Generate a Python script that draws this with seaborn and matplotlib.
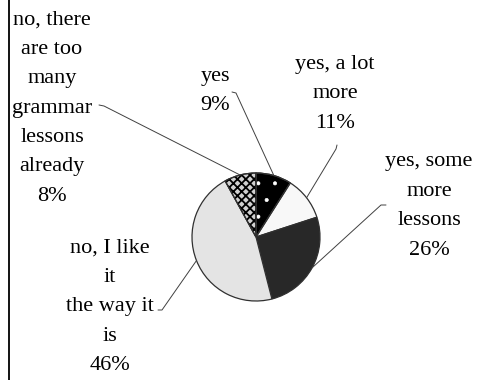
import matplotlib
matplotlib.use("Agg")
import numpy as np
import matplotlib.pyplot as plt
import seaborn as sns

# Survey answers, in drawing order (clockwise from 12 o'clock)
answers = [
    "yes",
    "yes, a lot\nmore",
    "yes, some\nmore\nlessons",
    "no, I like\nit\nthe way it\nis",
    "no, there\nare too\nmany\ngrammar\nlessons\nalready",
]
shares = [9, 11, 26, 46, 8]

face_colors = ["#000000", "#f8f8f8", "#282828", "#e4e4e4", "#d0d0d0"]
hatch_marks = [".", None, None, None, "xxxx"]
hatch_colors = ["white", None, None, None, "black"]
hatch_widths = [0.45, None, None, None, 1.3]

# Label layout in pixel coordinates (x right, y down)
label_centers = [(215, 91), (335, 94), (429, 206), (110, 307), (52, 108)]
# leader start (at the label) and short stub end
leader_starts = [((232, 92), (236, 93)),
                 ((337, 145), (336, 149)),
                 ((386, 205), (381, 205)),
                 ((158, 310), (162, 310)),
                 ((99, 105), (104, 106))]

W, H = 485, 380
CENTER = (256, 237)
RADIUS = 64

sns.set_theme(style="white")
plt.rcParams["font.family"] = ["Liberation Serif", "DejaVu Serif"]

fig = plt.figure(figsize=(W / 100, H / 100), dpi=100)
ax = fig.add_axes([0, 0, 1, 1])

# y axis runs downward, so counter-clockwise in data is clockwise on screen
wedges, _ = ax.pie(shares, colors=face_colors, startangle=-90, counterclock=True,
                   center=CENTER, radius=RADIUS,
                   wedgeprops=dict(edgecolor="#303030", linewidth=0.9))

# texture overlays
for w, hm, hc, hw in zip(wedges, hatch_marks, hatch_colors, hatch_widths):
    if hm is None:
        continue
    with plt.rc_context({"hatch.linewidth": hw}):
        tex = matplotlib.patches.Wedge(w.center, w.r, w.theta1, w.theta2,
                                       facecolor="none", edgecolor=hc,
                                       hatch=hm, linewidth=0)
    if hasattr(tex, "set_hatch_linewidth"):
        tex.set_hatch_linewidth(hw)
    ax.add_patch(tex)
    ax.add_patch(matplotlib.patches.Wedge(w.center, w.r, w.theta1, w.theta2,
                                          facecolor="none", edgecolor="#303030",
                                          linewidth=0.9))

ax.set_xlim(0, W)
ax.set_ylim(H, 0)
ax.set_axis_off()

for w, txt, share, (lx, ly), (p0, p1) in zip(wedges, answers, shares,
                                             label_centers, leader_starts):
    ax.text(lx, ly, f"{txt}\n{share}%", ha="center", va="center",
            fontsize=16, linespacing=1.74, color="black")
    mid = np.deg2rad((w.theta1 + w.theta2) / 2)
    ex = w.center[0] + w.r * np.cos(mid)
    ey = w.center[1] + w.r * np.sin(mid)
    ax.plot([p0[0], p1[0], ex], [p0[1], p1[1], ey], color="#404040", lw=0.7)

# left frame line
ax.plot([9.5, 9.5], [0, H], color="black", lw=1.3, solid_capstyle="butt")

fig.savefig("out.png", dpi=100)
